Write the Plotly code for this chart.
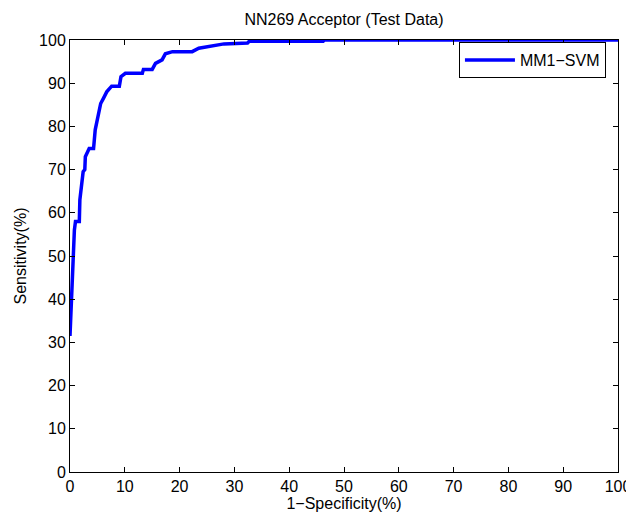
import plotly.graph_objects as go

# ROC curve points (percent)
fpr = [0, 0.15, 0.2, 0.5, 0.8, 1.0, 1.7, 1.8, 2.1, 2.4, 2.7, 2.8, 3.5, 4.3,
       4.6, 5.2, 5.6, 6.1, 6.7, 7.6, 9.0, 9.3, 10.1, 13.2, 13.4, 15.0, 15.6,
       16.8, 17.4, 18.7, 22.3, 23.5, 26.3, 28.1, 32.4, 32.7, 46.2, 46.4, 100]
tpr = [31.5, 36, 40.5, 50, 56, 58, 58, 63, 67, 69.5, 70, 73, 74.9, 74.9,
       79.2, 82.6, 85.3, 86.5, 88, 89.3, 89.3, 91.5, 92.3, 92.3, 93.2, 93.2,
       94.6, 95.4, 96.8, 97.3, 97.3, 98.1, 98.7, 99.1, 99.3, 99.7, 99.7, 100, 100]

series_name = "MM1\u2212SVM"
title = "NN269 Acceptor (Test Data)"
x_label = "1\u2212Specificity(%)"
y_label = "Sensitivity(%)"

# the page body has an 8px margin, so the figure is made 8px smaller
W, H = 626, 506

fig = go.Figure()
fig.add_trace(go.Scatter(x=fpr, y=tpr, mode="lines", name=series_name,
                         line=dict(color="#0000ff", width=3.5)))

axis_style = dict(range=[0, 100], dtick=10, ticks="inside", ticklen=5,
                  tickcolor="black", showline=True, linecolor="black",
                  linewidth=1, mirror="ticks", showgrid=False, zeroline=False,
                  automargin=False, tickfont=dict(size=16, color="black"))

fig.update_layout(
    width=W, height=H,
    margin=dict(l=62, r=16, t=32, b=42),
    paper_bgcolor="white", plot_bgcolor="white",
    font=dict(family="Liberation Sans, Arial, sans-serif", size=16, color="black"),
    title=dict(text=title, x=0.5, xref="paper", xanchor="center",
               y=1 - 11 / H, yanchor="middle", font=dict(size=16)),
    xaxis=dict(title=dict(text=x_label, standoff=3, font=dict(size=16)), **axis_style),
    yaxis=dict(title=dict(text=y_label, standoff=8, font=dict(size=16)), **axis_style),
    legend=dict(x=0.978, y=0.995, xanchor="right", yanchor="top",
                bordercolor="black", borderwidth=1, bgcolor="white",
                font=dict(size=16), tracegroupgap=0, itemwidth=50),
    showlegend=True,
)

fig.write_html("out.html")
